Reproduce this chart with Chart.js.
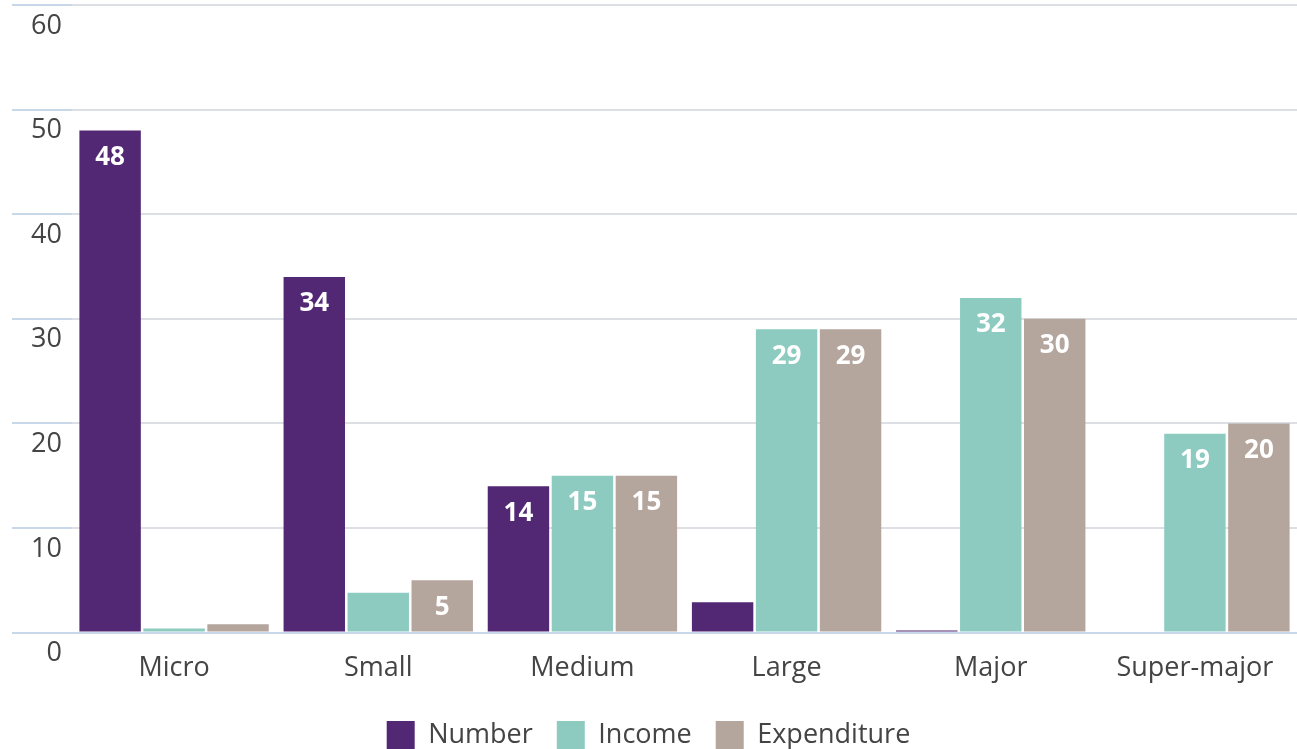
<!DOCTYPE html>
<html>
<head>
<meta charset="utf-8">
<script src="https://cdn.jsdelivr.net/npm/chart.js@4"></script>
<style>
  html, body { margin: 0; padding: 0; background: #fff; }
  #wrap { width: 1297px; height: 749px; position: relative; }
</style>
</head>
<body>
<div id="wrap"><canvas id="sizeChart"></canvas></div>
<script>
const categories = ['Micro', 'Small', 'Medium', 'Large', 'Major', 'Super-major'];
const numberValues = [48, 34, 14, 2.9, 0.2, 0];
const incomeValues = [0.4, 3.8, 15, 29, 32, 19];
const expenditureValues = [0.8, 5, 15, 29, 30, 20];
const yTicks = [0, 10, 20, 30, 40, 50, 60];

const FONT = '"Open Sans", "DejaVu Sans", sans-serif';
const ctx = document.getElementById('sizeChart').getContext('2d');

// white values written inside the top of each bar (small ones left bare)
const valueLabels = {
  id: 'valueLabels',
  afterDatasetsDraw(chart) {
    const c = chart.ctx;
    c.save();
    c.font = 'bold 26px ' + FONT;
    c.fillStyle = '#ffffff';
    c.textAlign = 'center';
    c.textBaseline = 'middle';
    chart.data.datasets.forEach((ds, i) => {
      chart.getDatasetMeta(i).data.forEach((bar, j) => {
        const v = ds.data[j];
        if (v < 5) return;
        c.fillText(String(Math.round(v)), bar.x, bar.y + 27);
      });
    });
    c.restore();
  }
};

new Chart(ctx, {
  type: 'bar',
  data: {
    labels: categories,
    datasets: [
      { label: 'Number', data: numberValues, backgroundColor: '#522773' },
      { label: 'Income', data: incomeValues, backgroundColor: '#8dcbc1' },
      { label: 'Expenditure', data: expenditureValues, backgroundColor: '#b4a59d' }
    ]
  },
  options: {
    responsive: true,
    maintainAspectRatio: false,
    animation: false,
    layout: { padding: { top: 5, right: 0, bottom: -10, left: 0 } },
    datasets: {
      bar: { categoryPercentage: 0.94, barPercentage: 0.96 }
    },
    scales: {
      x: {
        grid: { display: false },
        border: { color: '#c9d8e8', width: 2 },
        ticks: {
          color: '#444',
          font: { family: FONT, size: 27 },
          padding: 12
        }
      },
      y: {
        min: 0,
        max: 60,
        afterBuildTicks(scale) {
          scale.ticks = yTicks.map(v => ({ value: v }));
        },
        afterFit(scale) {
          scale.width = 72;
        },
        border: { display: false },
        grid: {
          color: '#dcdfe3',
          lineWidth: 2,
          tickColor: '#c9d8e8',
          tickLength: 60
        },
        ticks: {
          color: '#444',
          font: { family: FONT, size: 27 },
          padding: -50,
          labelOffset: 21
        }
      }
    },
    plugins: {
      legend: {
        position: 'bottom',
        labels: {
          color: '#444',
          font: { family: FONT, size: 27 },
          boxWidth: 28,
          boxHeight: 28,
          padding: 24
        }
      },
      tooltip: { enabled: false }
    }
  },
  plugins: [valueLabels]
});
</script>
</body>
</html>
